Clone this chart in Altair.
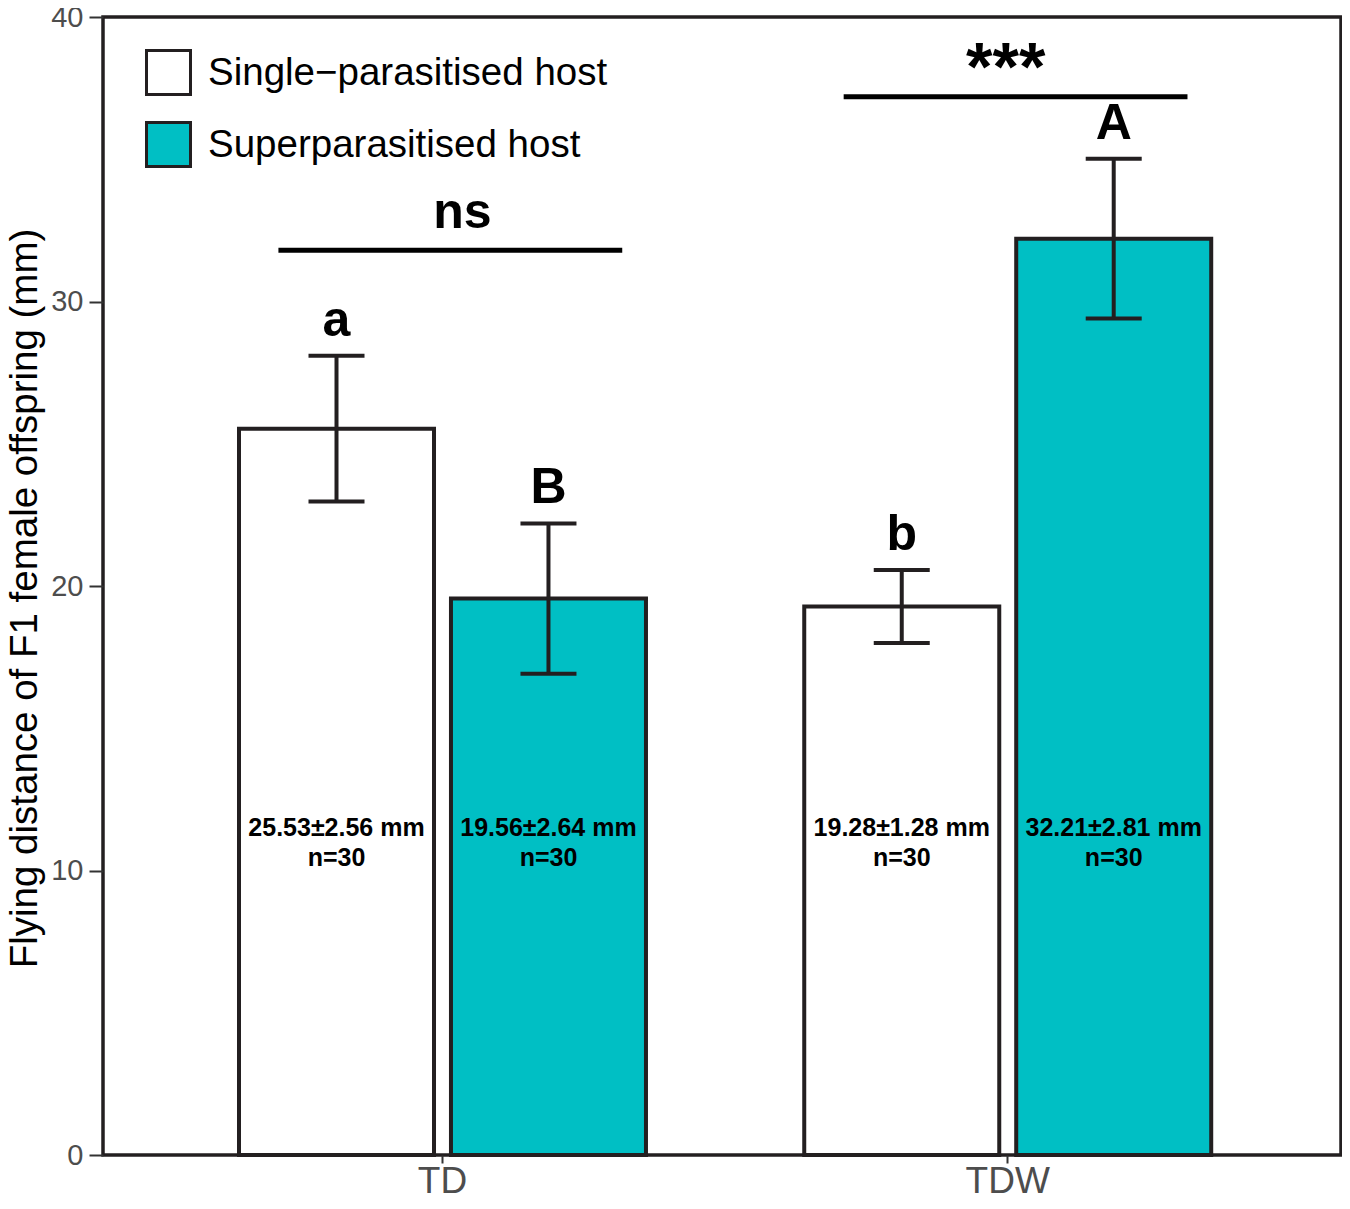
import altair as alt
import pandas as pd

# ---- data ----
groups = ["TD", "TD", "TDW", "TDW"]
hosts = ["Single−parasitised host", "Superparasitised host",
         "Single−parasitised host", "Superparasitised host"]
means = [25.53, 19.56, 19.28, 32.21]
ses = [2.56, 2.64, 1.28, 2.81]
n_obs = [30, 30, 30, 30]
letters = ["a", "B", "b", "A"]

sig_groups = ["TD", "TDW"]
sig_labels = ["ns", "***"]
sig_level = [31.8, 37.2]

host_order = ["Single−parasitised host", "Superparasitised host"]
group_order = ["TD", "TDW"]
fill_colors = ["#FFFFFF", "#00BFC4"]
y_ticks = [0, 10, 20, 30, 40]

df = pd.DataFrame({"group": groups, "host": hosts, "mean": means,
                   "se": ses, "n": n_obs, "letter": letters})
df["lo"] = df["mean"] - df["se"]
df["hi"] = df["mean"] + df["se"]
df["label"] = [f"{m:.2f}±{s:.2f} mm\nn={k}" for m, s, k in zip(means, ses, n_obs)]

sig = pd.DataFrame({"group": sig_groups, "sig": sig_labels, "level": sig_level})

FONT = "Liberation Sans"
INK = "#231F20"
PLOT_W = 1238
PLOT_H = 1138

x_scale = alt.Scale(domain=group_order, paddingInner=0.25, paddingOuter=0.2201,
                    align=0.5125)
x_enc = alt.X("group:N", sort=group_order, scale=x_scale,
              axis=alt.Axis(title=None, labelFontSize=37, labelColor="#4D4D4D",
                            labelFont=FONT, tickSize=8, tickWidth=2,
                            tickColor="#333333", labelPadding=0, domain=False,
                            labelAngle=0))
xo_enc = alt.XOffset("host:N", sort=host_order,
                     scale=alt.Scale(domain=host_order, paddingInner=0.08,
                                     paddingOuter=0.04))
y_scale = alt.Scale(domain=[0, 40], nice=False, zero=True)
y_axis = alt.Axis(title="Flying distance of F1 female offspring (mm)",
                  values=y_ticks, grid=False, labelFontSize=29,
                  labelColor="#4D4D4D", labelFont=FONT, tickSize=14, tickWidth=2,
                  tickColor="#333333", labelPadding=6, domain=False,
                  titleFont=FONT, titleFontSize=38.5, titleFontWeight="normal",
                  titleColor="black", titlePadding=6, titleY=PLOT_H / 2 + 12)

base = alt.Chart(df)

bars = base.mark_bar(stroke=INK, strokeWidth=4).encode(
    x=x_enc,
    xOffset=xo_enc,
    y=alt.Y("mean:Q", scale=y_scale, axis=y_axis),
    fill=alt.Fill("host:N", sort=host_order,
                  scale=alt.Scale(domain=host_order, range=fill_colors),
                  legend=alt.Legend(title=None, orient="none", legendX=42, legendY=32,
                                    symbolType="square", symbolSize=1936,
                                    symbolStrokeWidth=3, symbolStrokeColor=INK,
                                    labelFontSize=38.5, labelFont=FONT,
                                    labelColor="black", labelOffset=16,
                                    rowPadding=15, padding=0, labelLimit=800)),
)

err = base.mark_rule(color=INK, strokeWidth=4).encode(
    x=alt.X("group:N", sort=group_order), xOffset=xo_enc,
    y=alt.Y("lo:Q", scale=y_scale), y2="hi:Q")

cap_lo = base.mark_tick(color=INK, size=56, thickness=4, opacity=1).encode(
    x=alt.X("group:N", sort=group_order), xOffset=xo_enc,
    y=alt.Y("lo:Q", scale=y_scale))
cap_hi = base.mark_tick(color=INK, size=56, thickness=4, opacity=1).encode(
    x=alt.X("group:N", sort=group_order), xOffset=xo_enc,
    y=alt.Y("hi:Q", scale=y_scale))

letter_txt = base.mark_text(font=FONT, fontSize=50, fontWeight="bold",
                            baseline="alphabetic", dy=-20, color="black").encode(
    x=alt.X("group:N", sort=group_order), xOffset=xo_enc,
    y=alt.Y("hi:Q", scale=y_scale), text="letter:N")

bar_txt = base.mark_text(font=FONT, fontSize=25, fontWeight="bold",
                         baseline="middle", lineBreak="\n", lineHeight=30,
                         color="black").encode(
    x=alt.X("group:N", sort=group_order), xOffset=xo_enc,
    y=alt.datum(11.5, scale=y_scale), text="label:N")

sbase = alt.Chart(sig)
sig_line = sbase.mark_rule(color="black", strokeWidth=5, strokeCap="butt").encode(
    x=alt.X("group:N", sort=group_order, bandPosition=0.113),
    x2=alt.X2("group", bandPosition=0.924),
    y=alt.Y("level:Q", scale=y_scale))
sig_ns = sbase.transform_filter(alt.datum.sig == "ns").mark_text(
    font=FONT, fontSize=50, fontWeight="bold", baseline="alphabetic", dy=-22,
    dx=20, color="black").encode(
    x=alt.X("group:N", sort=group_order), y=alt.Y("level:Q", scale=y_scale),
    text="sig:N")
sig_star = sbase.transform_filter(alt.datum.sig == "***").mark_text(
    font=FONT, fontSize=68, fontWeight="bold", baseline="alphabetic", dy=-7,
    dx=-2, color="black").encode(
    x=alt.X("group:N", sort=group_order), y=alt.Y("level:Q", scale=y_scale),
    text="sig:N")

chart = alt.layer(bars, err, cap_lo, cap_hi, letter_txt, bar_txt,
                  sig_line, sig_ns, sig_star).properties(
    width=PLOT_W, height=PLOT_H,
    background="white",
    autosize=alt.AutoSizeParams(type="none"),
    padding={"left": 95, "top": 9, "right": 1, "bottom": 41},
).configure_view(stroke=INK, strokeWidth=3.5)

chart.save("out.html", embed_options={"renderer": "svg", "actions": False})
